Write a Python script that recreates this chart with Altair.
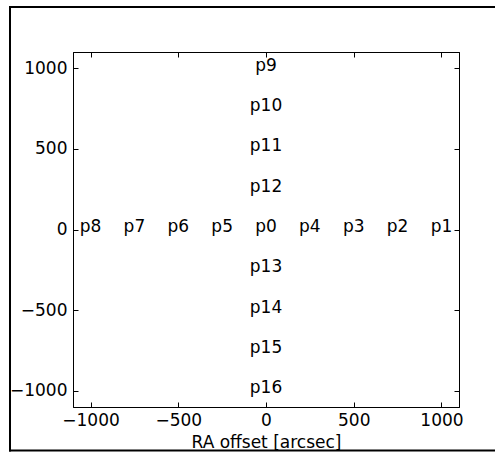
import altair as alt
import pandas as pd

# ---- data ----
labels = ["p0", "p1", "p2", "p3", "p4", "p5", "p6", "p7", "p8",
          "p9", "p10", "p11", "p12", "p13", "p14", "p15", "p16"]
ra_offset = [0, 1000, 750, 500, 250, -250, -500, -750, -1000,
             0, 0, 0, 0, 0, 0, 0, 0]
dec_offset = [0, 0, 0, 0, 0, 0, 0, 0, 0,
              1000, 750, 500, 250, -250, -500, -750, -1000]
x_ticks = [-1000, -500, 0, 500, 1000]
y_ticks = [-1000, -500, 0, 500, 1000]

df = pd.DataFrame({"label": labels, "ra": ra_offset, "dec": dec_offset})

FONT = "DejaVu Sans"
FS = 17
xscale = alt.Scale(domain=[-1100, 1100], nice=False, zero=False)
yscale = alt.Scale(domain=[-1100, 1100], nice=False, zero=False)

inward = {"expr": "-5"}

common_axis = dict(
    tickSize=inward, tickColor="black", tickWidth=1,
    domainColor="black", domainWidth=1, grid=False, format="d",
    labelFont=FONT, labelFontSize=FS, labelColor="black",
    titleFont=FONT, titleFontSize=FS, titleColor="black", titleFontWeight="normal",
)

text = alt.Chart(df).mark_text(
    font=FONT, fontSize=FS, align="center", baseline="alphabetic", dy=2.5, color="black"
).encode(
    x=alt.X("ra:Q", scale=xscale,
            axis=alt.Axis(orient="bottom", values=x_ticks, title="RA offset [arcsec]",
                          labelPadding=10, titlePadding=6, labelFlush=False, **common_axis)),
    y=alt.Y("dec:Q", scale=yscale,
            axis=alt.Axis(orient="left", values=y_ticks, title=None,
                          labelPadding=11, labelFlush=False, **common_axis)),
    text="label:N",
)

mirror = alt.Chart(df).mark_point(opacity=0).encode(
    x=alt.X("ra:Q", scale=xscale,
            axis=alt.Axis(orient="top", values=x_ticks, title=None, labels=False, **common_axis)),
    y=alt.Y("dec:Q", scale=yscale,
            axis=alt.Axis(orient="right", values=y_ticks, title=None, labels=False, **common_axis)),
)

# outer figure frame (its right edge lies beyond the picture)
one = pd.DataFrame({"f": [0]})
frame_style = dict(color="black", strokeWidth=2)
frame_top = alt.Chart(one).mark_rule(**frame_style).encode(
    x=alt.value(-64), x2=alt.value(422), y=alt.value(-45))
frame_bottom = alt.Chart(one).mark_rule(**frame_style).encode(
    x=alt.value(-64), x2=alt.value(422), y=alt.value(398.5))
frame_left = alt.Chart(one).mark_rule(**frame_style).encode(
    x=alt.value(-63), y=alt.value(-46), y2=alt.value(399.5))

chart = alt.layer(frame_top, frame_bottom, frame_left, text, mirror).resolve_axis(
    x="independent", y="independent"
).properties(
    width=386, height=355,
    autosize=alt.AutoSizeParams(type="none"),
    padding={"left": 73, "top": 52, "right": 36, "bottom": 46},
    background="white",
).configure_view(
    stroke="black", strokeWidth=1
)

chart.save("out.html", embed_options={"renderer": "svg", "actions": False})
